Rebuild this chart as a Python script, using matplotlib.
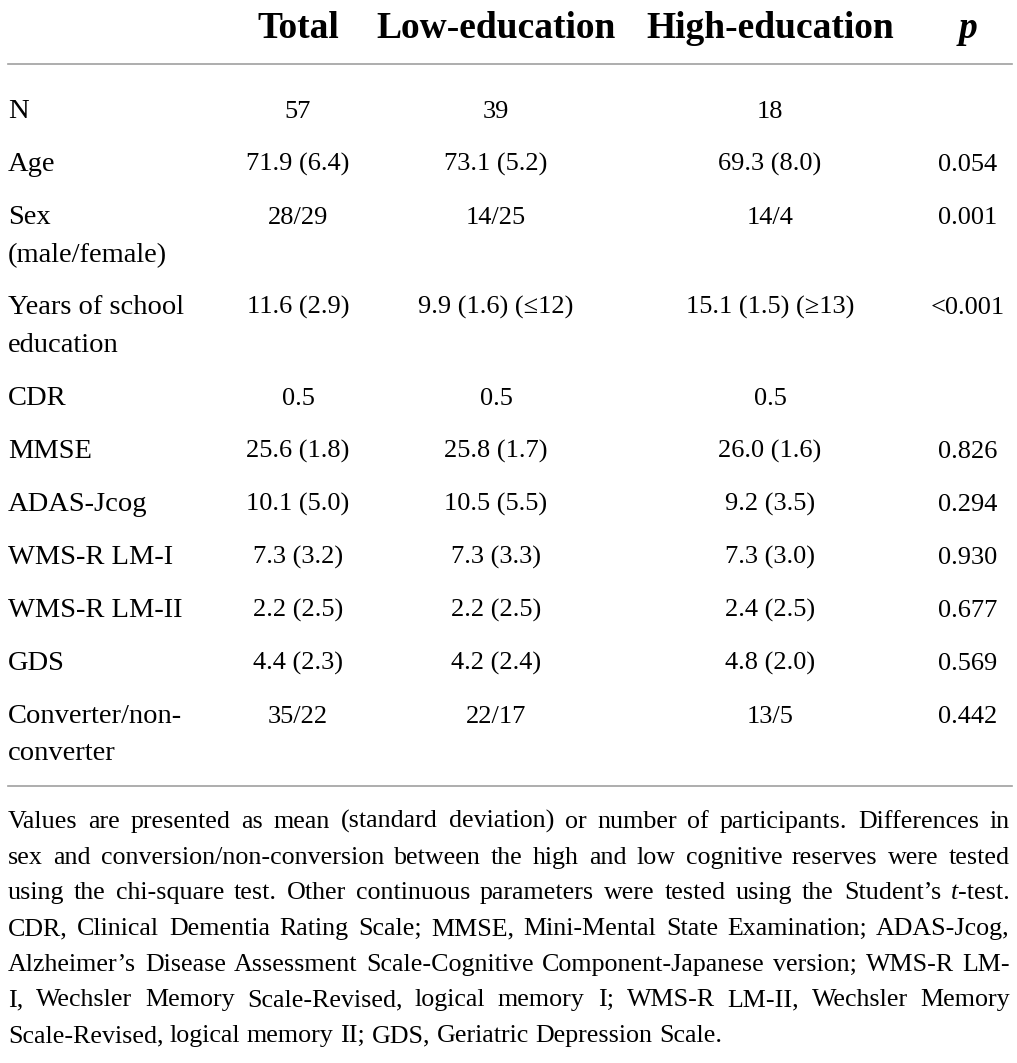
import matplotlib
matplotlib.use("Agg")
import matplotlib.pyplot as plt

plt.rcParams['font.family'] = ['Liberation Serif', 'DejaVu Serif']

headers = ["Total", "Low-education", "High-education"]
labels = [["N"], ["Age"], ["Sex", "(male/female)"], ["Years of school", "education"],
          ["CDR"], ["MMSE"], ["ADAS-Jcog"], ["WMS-R LM-I"], ["WMS-R LM-II"], ["GDS"],
          ["Converter/non-", "converter"]]
total = ["57", "71.9 (6.4)", "28/29", "11.6 (2.9)", "0.5", "25.6 (1.8)", "10.1 (5.0)",
         "7.3 (3.2)", "2.2 (2.5)", "4.4 (2.3)", "35/22"]
low = ["39", "73.1 (5.2)", "14/25", "9.9 (1.6) (≤12)", "0.5", "25.8 (1.7)", "10.5 (5.5)",
       "7.3 (3.3)", "2.2 (2.5)", "4.2 (2.4)", "22/17"]
high = ["18", "69.3 (8.0)", "14/4", "15.1 (1.5) (≥13)", "0.5", "26.0 (1.6)", "9.2 (3.5)",
        "7.3 (3.0)", "2.4 (2.5)", "4.8 (2.0)", "13/5"]
pval = ["", "0.054", "0.001", "<0.001", "", "0.826", "0.294", "0.930", "0.677", "0.569", "0.442"]

# footnote, one entry per printed line; _t_ marks italic
note_lines = [
    "Values are presented as mean (standard deviation) or number of participants. Differences in",
    "sex and conversion/non-conversion between the high and low cognitive reserves were tested",
    "using the chi-square test. Other continuous parameters were tested using the Student’s _t_-test.",
    "CDR, Clinical Dementia Rating Scale; MMSE, Mini-Mental State Examination; ADAS-Jcog,",
    "Alzheimer’s Disease Assessment Scale-Cognitive Component-Japanese version; WMS-R LM-",
    "I, Wechsler Memory Scale-Revised, logical memory I; WMS-R LM-II, Wechsler Memory",
    "Scale-Revised, logical memory II; GDS, Geriatric Depression Scale.",
]

W, H = 1017, 1063
fig = plt.figure(figsize=(W / 100, H / 100), dpi=100)
ax = fig.add_axes([0, 0, 1, 1])
ax.set_xlim(0, W)
ax.set_ylim(H, 0)
ax.axis('off')
renderer = fig.canvas.get_renderer()

fs_lab = 20.5
fs_val = 19
fs_note = 18.7
col_x = [298, 496, 770, 968]
left = 8

# header
for x, h in zip(col_x, headers):
    ax.text(x, 38, h, ha='center', va='baseline', fontsize=27, fontweight='bold')
ax.text(col_x[3], 38, "p", ha='center', va='baseline', fontsize=27,
        fontweight='bold', fontstyle='italic')

ax.plot([left, 1012], [64, 64], color='#a0a0a0', lw=1.2)

# body
y = 118
for lab, a, b, c, p in zip(labels, total, low, high, pval):
    for k, line in enumerate(lab):
        ax.text(left, round(y + 37.5 * k), line, ha='left', va='baseline', fontsize=fs_lab)
    for x, v in zip(col_x, [a, b, c, p]):
        ax.text(x, round(y), v, ha='center', va='baseline', fontsize=fs_val)
    y += 53 + 37.5 * (len(lab) - 1)

ax.plot([left, 1012], [786, 786], color='#a0a0a0', lw=1.2)


def word_parts(word):
    parts = []
    chunks = word.split('_')
    for i, ch in enumerate(chunks):
        if ch:
            parts.append((ch, 'italic' if i % 2 == 1 else 'normal'))
    return parts


def text_width(s, style):
    t = ax.text(0, 0, s, fontsize=fs_note, fontstyle=style)
    w = t.get_window_extent(renderer).width
    t.remove()
    return w


right = 1010
for i, line in enumerate(note_lines):
    base = round(828 + 35.7 * i)
    words = line.split(' ')
    widths = [sum(text_width(s, st) for s, st in word_parts(w)) for w in words]
    if i < len(note_lines) - 1 and len(words) > 1:
        gap = (right - left - sum(widths)) / (len(words) - 1)
    else:
        gap = text_width("a b", 'normal') - text_width("ab", 'normal')
    x = left
    for w, wd in zip(words, widths):
        xx = x
        for s, st in word_parts(w):
            ax.text(round(xx), base, s, ha='left', va='baseline', fontsize=fs_note, fontstyle=st)
            xx += text_width(s, st)
        x += wd + gap

fig.savefig("out.png", dpi=100)
